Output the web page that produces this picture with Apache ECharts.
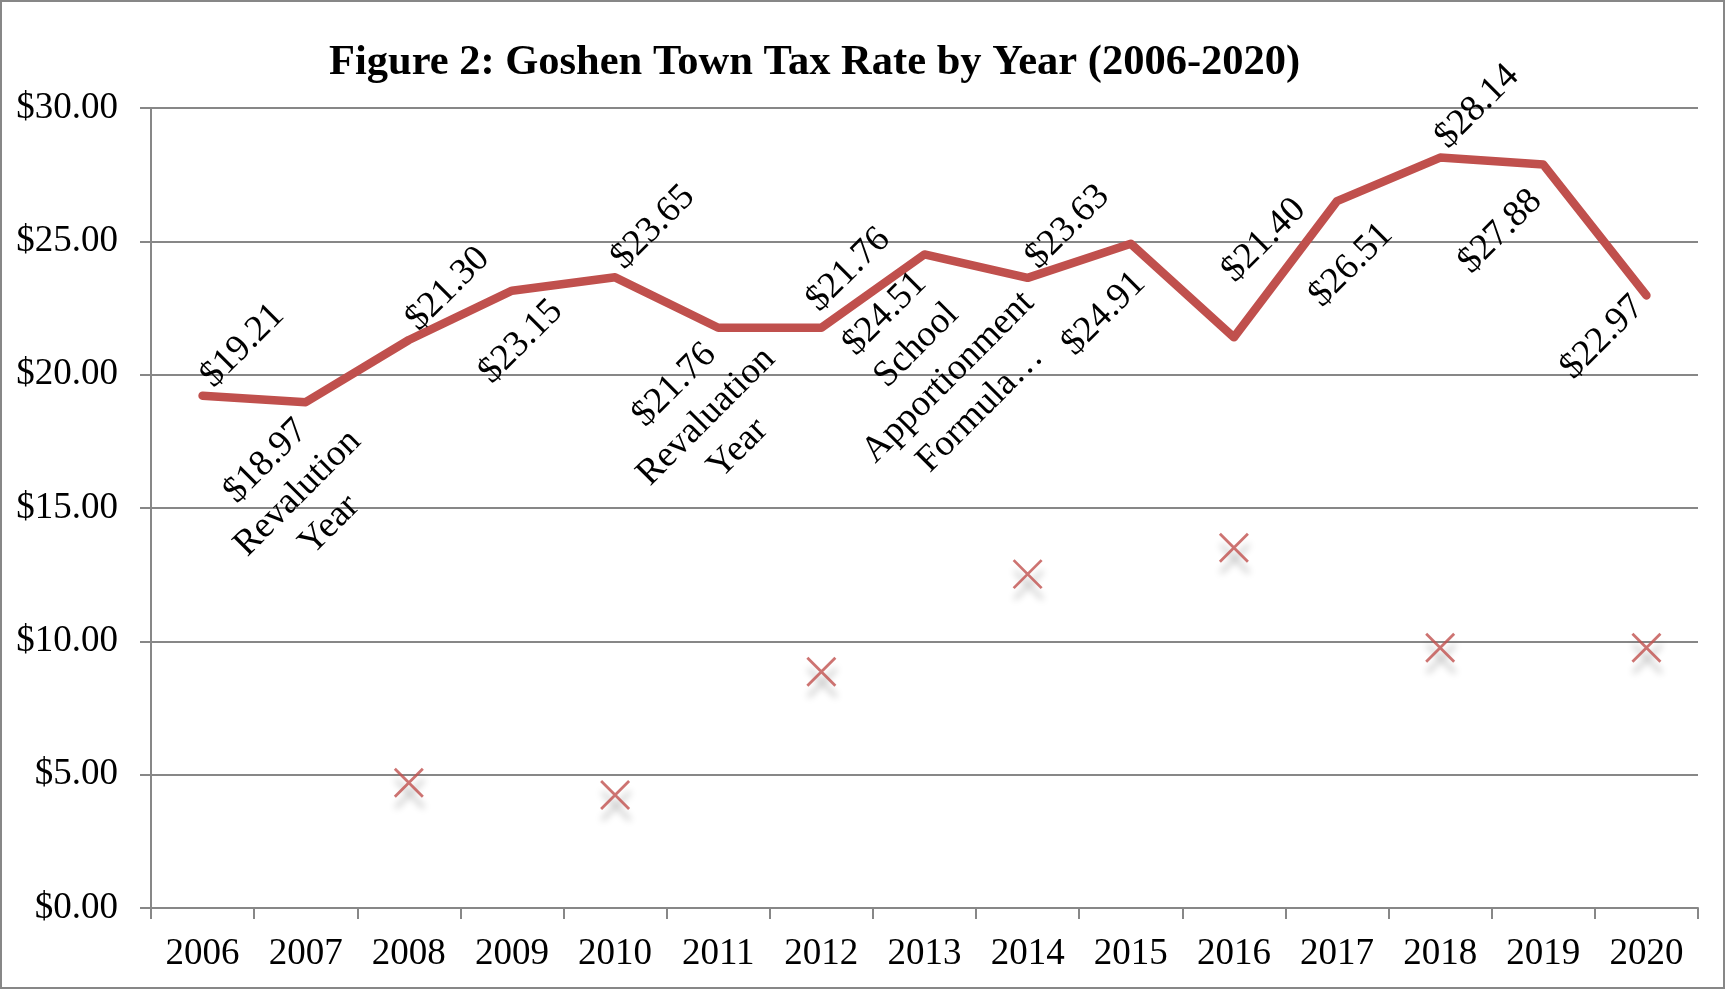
<!DOCTYPE html>
<html>
<head>
<meta charset="utf-8">
<script src="https://cdn.jsdelivr.net/npm/echarts@6/dist/echarts.min.js"></script>
<style>
  html, body { margin: 0; padding: 0; background: #ffffff; }
  #chart { width: 1725px; height: 990px; }
</style>
</head>
<body>
<div id="chart"></div>
<script>
// Goshen town tax rate per year
const years = ['2006', '2007', '2008', '2009', '2010', '2011', '2012', '2013',
               '2014', '2015', '2016', '2017', '2018', '2019', '2020'];
const taxRates = [19.21, 18.97, 21.30, 23.15, 23.65, 21.76, 21.76, 24.51,
                  23.63, 24.91, 21.40, 26.51, 28.14, 27.88, 22.97];
const rateNotes = ['', 'Revalution\nYear', '', '', '', 'Revaluation\nYear', '',
                   'School\nApportionment\nFormula…', '', '', '', '', '', '', ''];
// secondary "x" markers on even years
const markerValues = [null, null, 4.70, null, 4.24, null, 8.86, null,
                      12.52, null, 13.51, null, 9.76, null, 9.76];
const yTicks = [0, 5, 10, 15, 20, 25, 30];

// where each rotated value label sits relative to its point (screen px)
const labelShift = [[40, -50], [-8, 91], [39, -51], [9, 51], [38, -50], [-12, 89],
                    [27, -58], [8, 107], [40, -51], [-27, 70], [30, -97], [14, 64],
                    [37, -51], [-43, 67], [-44, 42]];

const RED = '#C0504D';
const GRID_GREY = '#878787';
const SERIF = '"Liberation Serif", "Times New Roman", serif';
const LABEL_ANGLE = 45;

// label offsets are applied in the rotated text frame, so turn the screen shift into that frame
function toTextFrame(dx, dy) {
  const a = LABEL_ANGLE * Math.PI / 180;
  const c = Math.cos(a), s = Math.sin(a);
  return [c * dx - s * dy, s * dx + c * dy];
}

const lineData = taxRates.map((v, i) => ({
  value: v,
  label: { offset: toTextFrame(labelShift[i][0], labelShift[i][1]) }
}));

const chart = echarts.init(document.getElementById('chart'), null, { renderer: 'canvas' });

chart.setOption({
  animation: false,
  backgroundColor: '#ffffff',
  textStyle: { fontFamily: SERIF },
  title: {
    text: 'Figure 2: Goshen Town Tax Rate by Year (2006-2020)',
    left: 324,
    top: 37,
    textStyle: { fontFamily: SERIF, fontWeight: 'bold', fontSize: 42.5, color: '#000000' }
  },
  graphic: [{
    type: 'rect',
    shape: { x: 1, y: 1, width: 1723, height: 987 },
    style: { fill: 'none', stroke: GRID_GREY, lineWidth: 2 },
    silent: true,
    z: -1
  }],
  grid: { left: 151, right: 27, top: 108, bottom: 82, containLabel: false },
  xAxis: {
    type: 'category',
    data: years,
    boundaryGap: true,
    axisLine: { show: true, lineStyle: { color: GRID_GREY, width: 2 } },
    axisTick: { show: true, length: 11, lineStyle: { color: GRID_GREY, width: 2 } },
    axisLabel: { fontFamily: SERIF, fontSize: 37, color: '#000000', margin: 28, interval: 0 },
    splitLine: { show: false }
  },
  yAxis: {
    type: 'value',
    min: yTicks[0],
    max: yTicks[yTicks.length - 1],
    interval: yTicks[1] - yTicks[0],
    axisLine: { show: true, lineStyle: { color: GRID_GREY, width: 2 } },
    axisTick: { show: true, length: 11, lineStyle: { color: GRID_GREY, width: 2 } },
    axisLabel: {
      fontFamily: SERIF, fontSize: 37, color: '#000000', margin: 33,
      formatter: v => '$' + v.toFixed(2)
    },
    splitLine: { show: true, lineStyle: { color: GRID_GREY, width: 2 } }
  },
  series: [
    {
      name: 'Tax Rate',
      type: 'line',
      data: lineData,
      symbol: 'circle',
      symbolSize: 1,
      showSymbol: true,
      itemStyle: { color: RED },
      lineStyle: { color: RED, width: 8.5, cap: 'round', join: 'round' },
      label: {
        show: true,
        position: 'inside',
        rotate: LABEL_ANGLE,
        align: 'center',
        verticalAlign: 'middle',
        fontFamily: SERIF,
        fontSize: 37,
        lineHeight: 45,
        color: '#000000',
        formatter: p => {
          const note = rateNotes[p.dataIndex];
          return '$' + p.value.toFixed(2) + (note ? '\n' + note : '');
        }
      },
      emphasis: { disabled: true },
      z: 3
    },
    {
      name: 'Markers',
      type: 'scatter',
      data: markerValues,
      symbol: 'path://M0,0L10,10M10,0L0,10',
      symbolSize: 28,
      itemStyle: {
        color: 'rgba(0,0,0,0)',
        borderColor: RED,
        borderWidth: 2.8,
        shadowColor: 'rgba(0,0,0,0.35)',
        shadowBlur: 7,
        shadowOffsetX: 1,
        shadowOffsetY: 11
      },
      emphasis: { disabled: true },
      z: 2
    }
  ]
});
</script>
</body>
</html>
